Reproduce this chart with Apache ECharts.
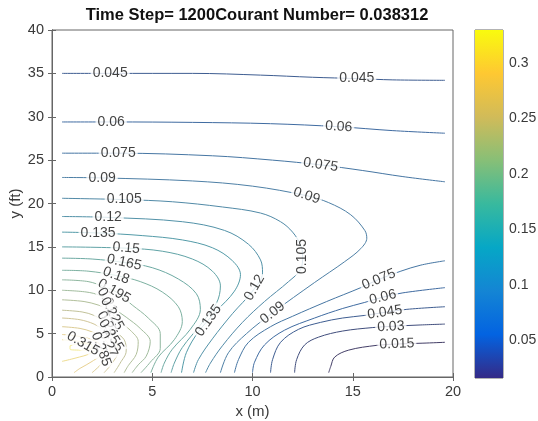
<!DOCTYPE html>
<html>
<head>
<meta charset="utf-8">
<script src="https://cdn.jsdelivr.net/npm/echarts@6/dist/echarts.min.js"></script>
<style>
html, body { margin: 0; padding: 0; background: #fff; }
#chart { width: 538px; height: 421px; }
</style>
</head>
<body>
<div id="chart"></div>
<script>
// field range shown on the colorbar
const cMin = 0.0157;
const cMax = 0.33;
const cbTicks = [0.05, 0.1, 0.15, 0.2, 0.25, 0.3];

// contour pieces, [x (m), y (ft)]
const lv015 = [[13.8,0.5],[13.9,1.2],[14.1,2.3],[14.8,3.1],[16.2,3.65],[17.2,3.8],[18.5,3.9],[19.6,4.0]];
const lv030 = [[12.1,0.5],[12.2,2.0],[12.6,3.7],[13.3,4.6],[14.5,5.3],[16.0,5.7],[17.0,5.85],[18.4,6.0],[19.6,6.1]];
const lv045b = [[10.9,0.5],[11.0,2.0],[11.4,4.0],[12.3,5.5],[13.4,6.3],[14.5,6.8],[15.6,7.1],[16.6,7.45],[17.7,7.8],[19.6,8.1]];
const lv060b = [[10.0,0.5],[10.1,1.7],[10.6,3.7],[11.6,5.4],[13.1,6.8],[14.5,7.9],[15.6,8.6],[16.5,9.2],[17.5,9.7],[19.6,10.3]];
const lv075b = [[9.1,0.5],[9.3,2.0],[9.8,4.0],[10.9,5.8],[12.0,7.0],[13.7,8.7],[15.4,10.3],[16.3,11.25],[17.4,12.2],[18.4,12.9],[19.6,13.4]];
const lv045t = [[0.5,35.0],[3,35.0],[7,35.0],[10.4,34.8],[13,34.55],[15.2,34.4],[17,34.25],[19.6,34.2]];
const lv060t = [[0.5,29.4],[3,29.4],[7,29.35],[10.9,29.2],[14.3,28.85],[17,28.4],[19.6,28.1]];
const lv075t = [[0.5,25.8],[3.3,25.8],[8,25.5],[11,25.0],[13.4,24.45],[15.5,23.8],[17.5,23.1],[19.6,22.5]];
const lv090 = [[0.5,23.0],[2.5,22.95],[7,22.6],[10,22.0],[12.7,20.9],[13.8,20.1],[14.9,18.7],[15.6,16.9],[15.7,16.0],[15.4,14.8],[14.6,13.3],[13.1,10.9],[11.0,7.4],[9.7,5.0],[8.8,2.8],[8.4,0.5]];
const lv105 = [[0.5,20.6],[3.6,20.45],[6,20.2],[8.5,19.6],[10.4,18.9],[11.4,17.9],[12.0,16.7],[12.4,15.2],[12.5,13.9],[12.4,12.4],[11.8,11.0],[10.6,8.7],[9.5,6.3],[8.5,3.6],[7.9,1.6],[7.66,0.5]];
const lv120 = [[0.5,18.5],[2.8,18.4],[6.5,17.9],[8.6,16.9],[9.8,15.3],[10.4,13.5],[10.5,12.0],[10.0,9.9],[9.0,7.3],[8.0,4.4],[7.3,2.0],[7.06,0.5]];
const lv135 = [[0.5,16.7],[2.3,16.6],[4.5,16.3],[6.5,15.8],[8.0,14.9],[9.0,13.4],[9.4,11.8],[9.1,9.9],[8.2,7.6],[7.3,5.2],[6.7,2.8],[6.46,0.5]];
const lv150 = [[0.5,15.0],[3.7,14.85],[5.5,14.5],[7.0,13.6],[8.0,12.2],[8.4,10.5],[8.2,8.5],[7.4,6.0],[6.5,3.4],[6.1,1.6],[5.94,0.5]];
const lv165 = [[0.5,13.7],[2,13.6],[3.6,13.2],[5.0,12.6],[6.3,11.3],[7.2,9.6],[7.4,7.8],[6.9,5.5],[6.0,3.2],[5.6,1.6],[5.44,0.5]];
const lv180 = [[0.5,12.3],[1.8,12.2],[3.2,11.7],[4.4,11.0],[5.5,9.8],[6.3,8.1],[6.5,6.4],[6.1,4.3],[5.3,2.3],[4.93,0.5]];
const lv195 = [[0.5,11.2],[1.8,11.0],[2.6,10.4],[3.2,9.8],[4.0,8.3],[4.8,6.8],[5.4,5.0],[5.4,3.3],[4.9,1.7],[4.44,0.5]];
const lv210 = [[0.5,10.0],[1.7,9.8],[2.4,9.4],[2.7,8.9],[3.1,7.9],[3.7,6.9],[4.4,5.6],[4.9,4.1],[4.7,2.4],[4.3,1.4],[4.0,0.5]];
const lv225 = [[0.5,8.9],[1.6,8.7],[2.3,8.3],[2.7,7.9],[2.95,7.4],[3.3,6.5],[3.9,5.4],[4.3,4.1],[4.2,2.6],[3.8,1.3],[3.6,0.5]];
const lv240 = [[0.5,7.7],[1.5,7.5],[2.1,7.1],[2.45,6.6],[2.7,6.1],[3.1,5.3],[3.6,4.3],[3.7,3.0],[3.4,1.6],[3.1,0.5]];
const lv255 = [[0.5,6.8],[1.4,6.6],[2.1,6.1],[2.6,5.4],[2.9,4.8],[3.2,4.0],[3.3,3.0],[3.0,1.6],[2.6,0.5]];
const lv270 = [[0.5,5.8],[1.4,5.6],[2.0,5.2],[2.5,4.6],[2.8,3.9],[2.9,3.0],[2.5,1.6],[2.0,0.5]];
const lv285 = [[0.5,4.9],[1.3,4.7],[2.0,4.3],[2.45,3.6],[2.5,2.8],[2.0,1.8],[1.4,1.0],[1.1,0.5]];
const lv300 = [[0.5,4.3],[1.2,4.15],[1.9,3.8],[2.2,3.3],[1.9,2.7],[1.2,2.2],[0.5,1.8]];
const lv315 = [[0.9,3.6],[1.4,3.85],[2.0,3.65],[2.0,3.3],[1.5,3.1],[0.9,3.2],[0.9,3.6]];

const pieces = [
  [0.015, lv015], [0.03, lv030], [0.045, lv045b], [0.06, lv060b], [0.075, lv075b],
  [0.045, lv045t], [0.06, lv060t], [0.075, lv075t], [0.09, lv090], [0.105, lv105],
  [0.12, lv120], [0.135, lv135], [0.15, lv150], [0.165, lv165], [0.18, lv180],
  [0.195, lv195], [0.21, lv210], [0.225, lv225], [0.24, lv240], [0.255, lv255],
  [0.27, lv270], [0.285, lv285], [0.3, lv300], [0.315, lv315]
];

// inline contour labels: [level, x, y, angle]
const labelAt = [
  [0.045, 2.9, 35.0, 0], [0.045, 15.2, 34.4, 0],
  [0.06, 2.95, 29.4, 0], [0.06, 14.3, 28.85, -3],
  [0.075, 3.3, 25.8, 0], [0.075, 13.4, 24.45, -8],
  [0.09, 2.5, 22.95, 0], [0.09, 12.7, 20.9, -18],
  [0.105, 3.6, 20.45, 0], [0.105, 12.5, 13.9, 90],
  [0.12, 2.8, 18.4, 0], [0.12, 10.1, 10.3, 60],
  [0.135, 2.3, 16.6, 0], [0.135, 7.8, 6.5, 55],
  [0.15, 3.7, 14.85, -5], [0.165, 3.6, 13.2, -12],
  [0.18, 3.2, 11.7, -20], [0.195, 3.1, 9.9, -30],
  [0.21, 2.75, 8.8, -62], [0.225, 3.0, 7.3, -62],
  [0.24, 2.75, 6.1, -60], [0.255, 2.95, 4.8, -58],
  [0.27, 2.8, 3.8, -65], [0.285, 2.45, 3.2, -70],
  [0.315, 1.55, 3.85, -30],
  [0.09, 11.0, 7.4, 38], [0.075, 16.3, 11.25, 22],
  [0.06, 16.5, 9.2, 14], [0.045, 16.6, 7.45, 8],
  [0.03, 16.9, 5.8, 3], [0.015, 17.2, 3.8, 2]
];

// parula colormap
const parula = ['#352a87', '#0363e1', '#1485d4', '#06a7c6', '#38b99e', '#87bf77', '#d1bb59', '#fec832', '#f9fb0e'];

function hex2rgb(h) {
  return [parseInt(h.slice(1, 3), 16), parseInt(h.slice(3, 5), 16), parseInt(h.slice(5, 7), 16)];
}
function lineColor(v) {
  let t = (v - cMin) / (cMax - cMin);
  t = Math.max(0, Math.min(1, t)) * (parula.length - 1);
  const i = Math.min(Math.floor(t), parula.length - 2);
  const f = t - i;
  const a = hex2rgb(parula[i]), b = hex2rgb(parula[i + 1]);
  const c = a.map((x, k) => x + (b[k] - x) * f);
  // thin lines in the picture look washed toward grey
  const g = 0.299 * c[0] + 0.587 * c[1] + 0.114 * c[2];
  const m = c.map(x => Math.round(x * 0.45 + g * 0.55 + 12));
  return 'rgb(' + m.map(x => Math.min(255, x)).join(',') + ')';
}

const font = 'Liberation Sans, Arial, Helvetica, sans-serif';
const axisCol = '#666';
const textCol = '#3a3a3a';

const lineSeries = pieces.map(p => ({
  type: 'line',
  xAxisIndex: 0,
  yAxisIndex: 0,
  data: p[1],
  showSymbol: false,
  smooth: 0.35,
  silent: true,
  z: 2,
  lineStyle: { width: 1, color: lineColor(p[0]) }
}));

const labelSeries = {
  type: 'scatter',
  xAxisIndex: 0,
  yAxisIndex: 0,
  symbolSize: 1,
  silent: true,
  z: 5,
  itemStyle: { color: 'rgba(0,0,0,0)' },
  label: {
    show: true,
    position: 'inside',
    formatter: p => p.data.text,
    color: '#111',
    fontSize: 14,
    fontFamily: font,
    backgroundColor: '#fff',
    padding: [0, 2]
  },
  data: labelAt.map(l => ({
    value: [l[1], l[2]],
    text: String(l[0]),
    label: { rotate: l[3] }
  }))
};

const colorbar = {
  type: 'custom',
  xAxisIndex: 2,
  yAxisIndex: 2,
  silent: true,
  data: [[0, cMin, cMax]],
  renderItem: function (params, api) {
    const p0 = api.coord([0, api.value(1)]);
    const p1 = api.coord([1, api.value(2)]);
    const stops = parula.map((c, i) => ({ offset: i / (parula.length - 1), color: c }));
    return {
      type: 'rect',
      shape: { x: p0[0], y: p1[1], width: p1[0] - p0[0], height: p0[1] - p1[1] },
      style: { fill: new echarts.graphic.LinearGradient(0, 1, 0, 0, stops) }
    };
  }
};

const chart = echarts.init(document.getElementById('chart'));
chart.setOption({
  animation: false,
  backgroundColor: '#fff',
  title: {
    text: 'Time Step= 1200Courant Number= 0.038312',
    left: 252,
    top: 2,
    textAlign: 'center',
    textStyle: { fontSize: 16.5, fontWeight: 'bold', color: '#111', fontFamily: font }
  },
  grid: [
    { left: 52, top: 30, width: 401, height: 347, show: true, borderColor: axisCol, borderWidth: 1, backgroundColor: '#fff', outerBoundsMode: 'none', containLabel: false },
    { left: 475, top: 30, width: 28, height: 348, show: true, borderColor: axisCol, borderWidth: 1, outerBoundsMode: 'none', containLabel: false }
  ],
  xAxis: [
    {
      gridIndex: 0, type: 'value', min: 0, max: 20, interval: 5, position: 'bottom',
      name: 'x (m)', nameLocation: 'middle', nameGap: 27,
      nameTextStyle: { fontSize: 15, color: textCol, fontFamily: font },
      axisLine: { show: true, lineStyle: { color: axisCol } },
      axisTick: { inside: true, length: 4, lineStyle: { color: axisCol } },
      axisLabel: { fontSize: 14.5, color: textCol, fontFamily: font, margin: 7 },
      splitLine: { show: false }
    },
    {
      gridIndex: 0, type: 'value', min: 0, max: 20, interval: 5, position: 'top',
      axisLine: { show: true, lineStyle: { color: axisCol } },
      axisTick: { inside: true, length: 4, lineStyle: { color: axisCol } },
      axisLabel: { show: false },
      splitLine: { show: false }
    },
    { gridIndex: 1, type: 'value', min: 0, max: 1, show: false }
  ],
  yAxis: [
    {
      gridIndex: 0, type: 'value', min: 0, max: 40, interval: 5, position: 'left',
      name: 'y (ft)', nameLocation: 'middle', nameGap: 29, nameRotate: 90,
      nameMoveOverlap: false,
      nameTextStyle: { fontSize: 15, color: textCol, fontFamily: font },
      axisLine: { show: true, lineStyle: { color: axisCol } },
      axisTick: { inside: true, length: 4, lineStyle: { color: axisCol } },
      axisLabel: { fontSize: 14.5, color: textCol, fontFamily: font, margin: 8 },
      splitLine: { show: false }
    },
    {
      gridIndex: 0, type: 'value', min: 0, max: 40, interval: 5, position: 'right',
      axisLine: { show: true, lineStyle: { color: axisCol } },
      axisTick: { inside: true, length: 4, lineStyle: { color: axisCol } },
      axisLabel: { show: false },
      splitLine: { show: false }
    },
    {
      gridIndex: 1, type: 'value', min: cMin, max: cMax, position: 'right',
      axisLine: { show: false },
      axisTick: { show: true, length: 3, customValues: cbTicks, lineStyle: { color: axisCol } },
      axisLabel: { fontSize: 14, color: textCol, fontFamily: font, margin: 6, customValues: cbTicks, formatter: v => String(v) },
      splitLine: { show: false }
    }
  ],
  series: lineSeries.concat([labelSeries, colorbar])
});
</script>
</body>
</html>
